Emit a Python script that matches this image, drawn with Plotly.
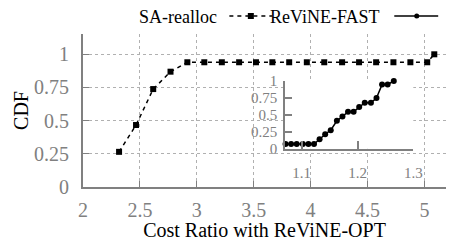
import plotly.graph_objects as go

# ---- data ----
sa_x = [2.317, 2.466, 2.617, 2.769, 2.917, 3.066, 3.22, 3.372, 3.52, 3.664,
        3.812, 3.967, 4.12, 4.277, 4.426, 4.576, 4.728, 4.877, 5.025, 5.087]
sa_y = [0.265, 0.467, 0.738, 0.869] + [0.94] * 15 + [1.0]

fast_x = [1.071, 1.081, 1.091, 1.102, 1.112, 1.122, 1.132, 1.142, 1.152, 1.163,
          1.173, 1.183, 1.193, 1.203, 1.213, 1.224, 1.234, 1.244, 1.254, 1.265]
fast_y = [0.07] * 6 + [0.14, 0.215, 0.274, 0.412, 0.476, 0.545, 0.545, 0.615,
                       0.679, 0.679, 0.748, 0.95, 0.95, 1.0]

main_xticks = [2, 2.5, 3, 3.5, 4, 4.5, 5]
main_xtext = ["2", "2.5", "3", "3.5", "4", "4.5", "5"]
main_yticks = [0, 0.25, 0.5, 0.75, 1]
main_ytext = ["0", "0.25", "0.5", "0.75", "1"]
inset_xticks = [1.1, 1.2, 1.3]
inset_xtext = ["1.1", "1.2", "1.3"]
inset_yticks = [0, 0.25, 0.5, 0.75, 1]
inset_ytext = ["0", "0.25", "0.5", "0.75", "1"]

FONT = "Liberation Serif"
GRAY = "#808080"
W, H = 455, 241
ML, MR, MT, MB = 83, 0, 34, 54
PW = W - ML - MR
PH = H - MT - MB


def px_x(px):
    return (px - ML) / PW


def px_y(py):
    return (H - MB - py) / PH


fig = go.Figure()
fig.add_trace(go.Scatter(
    x=sa_x, y=sa_y, mode="lines+markers", name="SA-realloc",
    line=dict(color="black", width=1.5, dash="4px,4px"),
    marker=dict(symbol="square", size=6, color="black"),
    showlegend=False, cliponaxis=False,
))
fig.add_trace(go.Scatter(
    x=fast_x, y=fast_y, mode="lines+markers", name="ReViNE-FAST",
    line=dict(color="black", width=1.5),
    marker=dict(symbol="circle", size=6, color="black"),
    xaxis="x2", yaxis="y2", showlegend=False, cliponaxis=False,
))

axis_common = dict(
    showline=True, linecolor=GRAY, zeroline=False, ticks="inside",
    tickcolor=GRAY, tickmode="array",
)

fig.update_layout(
    width=W, height=H,
    margin=dict(l=ML, r=MR, t=MT, b=MB, pad=0),
    paper_bgcolor="white", plot_bgcolor="white",
    font=dict(family=FONT, color="black"),
    xaxis=dict(
        **axis_common, range=[2, 5.19], tickvals=main_xticks, ticktext=main_xtext,
        linewidth=2, ticklen=6, tickwidth=1,
        showgrid=True, gridcolor="#b0b0b0", griddash="dot", gridwidth=1,
        tickfont=dict(family=FONT, size=20, color=GRAY),
        ticklabelstandoff=4,
        title=dict(text="Cost Ratio with ReViNE-OPT", standoff=0,
                   font=dict(family=FONT, size=20, color="black")),
    ),
    yaxis=dict(
        **axis_common, range=[0, 1.153], tickvals=main_yticks, ticktext=main_ytext,
        linewidth=2, ticklen=6, tickwidth=1,
        showgrid=True, gridcolor="#b0b0b0", griddash="dot", gridwidth=1,
        tickfont=dict(family=FONT, size=20, color=GRAY),
        ticklabelstandoff=8,
        title=dict(text="CDF", standoff=0,
                   font=dict(family=FONT, size=20, color="black")),
    ),
    xaxis2=dict(
        **axis_common, domain=[px_x(290), px_x(421.5)], anchor="y2",
        range=[1.07, 1.3], tickvals=inset_xticks, ticktext=inset_xtext,
        linewidth=1.5, ticklen=8, tickwidth=1.5, showgrid=False,
        tickfont=dict(family=FONT, size=15, color=GRAY),
        ticklabelstandoff=9,
    ),
    yaxis2=dict(
        **axis_common, domain=[px_y(148.8), px_y(81)], anchor="x2",
        range=[0, 1], tickvals=inset_yticks, ticktext=inset_ytext,
        linewidth=1.5, ticklen=7, tickwidth=1.5, showgrid=False,
        tickfont=dict(family=FONT, size=15, color=GRAY),
        ticklabelstandoff=3,
    ),
)

# white background behind the inset (hides the main grid there)
fig.add_shape(type="rect", xref="x2 domain", yref="y2 domain",
              x0=0, x1=1, y0=0, y1=1, fillcolor="white",
              line=dict(width=0), layer="below")

# ---- manual gnuplot-style key (text, then sample) ----
ly = px_y(17)
fig.add_annotation(text="SA-realloc", xref="paper", yref="paper",
                   x=px_x(222), y=ly, xanchor="right", yanchor="middle",
                   showarrow=False, font=dict(family=FONT, size=18, color="black"))
fig.add_annotation(text="ReViNE-FAST", xref="paper", yref="paper",
                   x=px_x(389), y=ly, xanchor="right", yanchor="middle",
                   showarrow=False, font=dict(family=FONT, size=18, color="black"))
ls = px_y(16)
fig.add_shape(type="line", xref="paper", yref="paper",
              x0=px_x(233), x1=px_x(277), y0=ls, y1=ls,
              line=dict(color="black", width=1.5, dash="4px,4px"))
fig.add_shape(type="rect", xref="paper", yref="paper",
              xsizemode="pixel", ysizemode="pixel",
              xanchor=px_x(255), yanchor=ls, x0=-3, x1=3, y0=-3, y1=3,
              fillcolor="black", line=dict(width=0))
fig.add_shape(type="line", xref="paper", yref="paper",
              x0=px_x(402), x1=px_x(447), y0=ls, y1=ls,
              line=dict(color="black", width=1.5))
fig.add_shape(type="circle", xref="paper", yref="paper",
              xsizemode="pixel", ysizemode="pixel",
              xanchor=px_x(425), yanchor=ls, x0=-2.5, x1=2.5, y0=-2.5, y1=2.5,
              fillcolor="black", line=dict(width=0))

fig.write_html("out.html",
               config={"displayModeBar": False},
               post_script="document.body.style.margin='0';"
                           "document.body.style.overflow='hidden';")
